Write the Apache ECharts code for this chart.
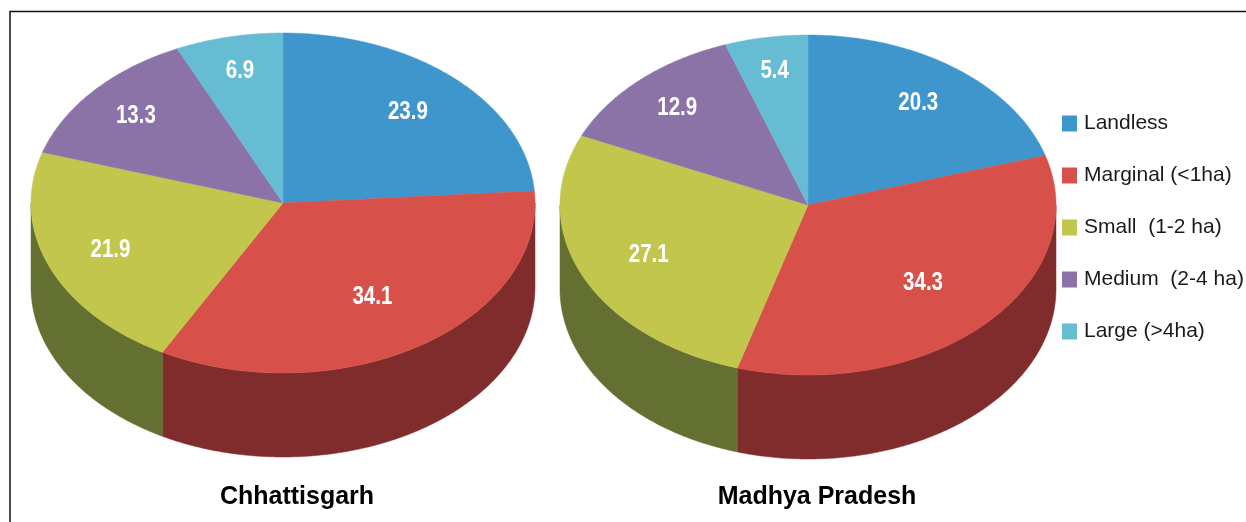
<!DOCTYPE html>
<html>
<head>
<meta charset="utf-8">
<script src="https://cdn.jsdelivr.net/npm/echarts@6/dist/echarts.min.js"></script>
<style>
    html, body { margin: 0; padding: 0; background: #fff; }
    #Root { width: 1246px; height: 522px; }
</style>
</head>
<body>
<div id="Root"></div>
<script>
// data
const categories = ['Landless', 'Marginal (<1ha)', 'Small  (1-2 ha)', 'Medium  (2-4 ha)', 'Large (>4ha)']
const chhattisgarh = [23.9, 34.1, 21.9, 13.3, 6.9]
const madhyaPradesh = [20.3, 34.3, 27.1, 12.9, 5.4]
const stateNames = ['Chhattisgarh', 'Madhya Pradesh']

const topColors = ['#3E96CC', '#D8504A', '#C3C64C', '#8B73A8', '#66BCD2']
const sideColors = ['#2A6A92', '#802C2C', '#646F32', '#5E4C77', '#3F8596']
const FONT = '"Liberation Sans", Arial, sans-serif'

// 3D pie drawn as custom series (ellipse top + front rim)
function pie3D(name, values, cx, cy, rx, ry, depth) {
    let total = values.reduce((a, b) => a + b, 0)
    let starts = []
    let acc = 0
    values.forEach(v => { starts.push(acc); acc += v })

    function pt(a, r, dy) {
        return [cx + rx * r * Math.sin(a), cy - ry * r * Math.cos(a) + (dy || 0)]
    }
    function arc(a0, a1, dy) {
        let pts = []
        let n = Math.max(2, Math.ceil(Math.abs(a1 - a0) / 0.01))
        for (let k = 0; k <= n; k++) pts.push(pt(a0 + (a1 - a0) * k / n, 1, dy))
        return pts
    }

    return {
        type: 'custom',
        name: name,
        coordinateSystem: 'none',
        silent: true,
        data: values.map((v, i) => ({ name: categories[i], value: v })),
        renderItem(params, api) {
            let i = params.dataIndex
            let a0 = starts[i] / total * Math.PI * 2
            let a1 = (starts[i] + values[i]) / total * Math.PI * 2
            let children = []

            // front rim (visible between 3 and 9 o'clock)
            let s = Math.max(a0, Math.PI / 2)
            let e = Math.min(a1, Math.PI * 3 / 2)
            if (s < e) {
                let pts = arc(s, e, 0).concat(arc(e, s, depth))
                children.push({
                    type: 'polygon',
                    z2: 1,
                    shape: { points: pts },
                    style: { fill: sideColors[i], stroke: sideColors[i], lineWidth: 0.5 }
                })
            }

            // top face
            children.push({
                type: 'polygon',
                z2: 10,
                shape: { points: [[cx, cy]].concat(arc(a0, a1, 0)) },
                style: { fill: topColors[i], stroke: topColors[i], lineWidth: 0.5 }
            })

            // label near the sector centroid, narrowed like the original font
            let h = (a1 - a0) / 2
            let lp = pt((a0 + a1) / 2, 0.8 * Math.sin(h) / h)
            children.push({
                type: 'text',
                z2: 20,
                x: lp[0],
                y: lp[1],
                scaleX: 0.82,
                style: {
                    text: values[i].toFixed(1),
                    x: 0,
                    y: 0,
                    align: 'center',
                    verticalAlign: 'middle',
                    fill: '#fff',
                    font: 'bold 25px ' + FONT
                }
            })
            return { type: 'group', children: children }
        }
    }
}

let chart = echarts.init(document.getElementById('Root'))

// empty series only to feed the legend
let legendSeries = categories.map((c, i) => ({
    type: 'custom',
    name: c,
    coordinateSystem: 'none',
    data: [],
    itemStyle: { color: topColors[i] },
    renderItem() { return null }
}))

let option = {
    backgroundColor: '#fff',
    animation: false,
    title: [
        { text: stateNames[0], left: 292, top: 480, textAlign: 'center',
          textStyle: { fontFamily: FONT, fontSize: 25, fontWeight: 'bold', color: '#000' } },
        { text: stateNames[1], left: 812, top: 480, textAlign: 'center',
          textStyle: { fontFamily: FONT, fontSize: 25, fontWeight: 'bold', color: '#000' } }
    ],
    legend: {
        orient: 'vertical',
        left: 1062,
        top: 113,
        padding: 0,
        icon: 'rect',
        itemWidth: 15,
        itemHeight: 16,
        itemGap: 31,
        data: categories,
        textStyle: { fontFamily: FONT, fontSize: 21, color: '#1a1a1a', padding: [0, 0, 0, 2] }
    },
    graphic: [{
        type: 'rect',
        shape: { x: 10, y: 11.5, width: 1300, height: 600 },
        style: { fill: 'none', stroke: '#111', lineWidth: 1.5 },
        z: -1
    }],
    series: [
        pie3D(stateNames[0], chhattisgarh, 283, 203, 252, 170, 84),
        pie3D(stateNames[1], madhyaPradesh, 808, 205, 248, 170, 84)
    ].concat(legendSeries)
}

chart.setOption(option)
</script>
</body>
</html>
